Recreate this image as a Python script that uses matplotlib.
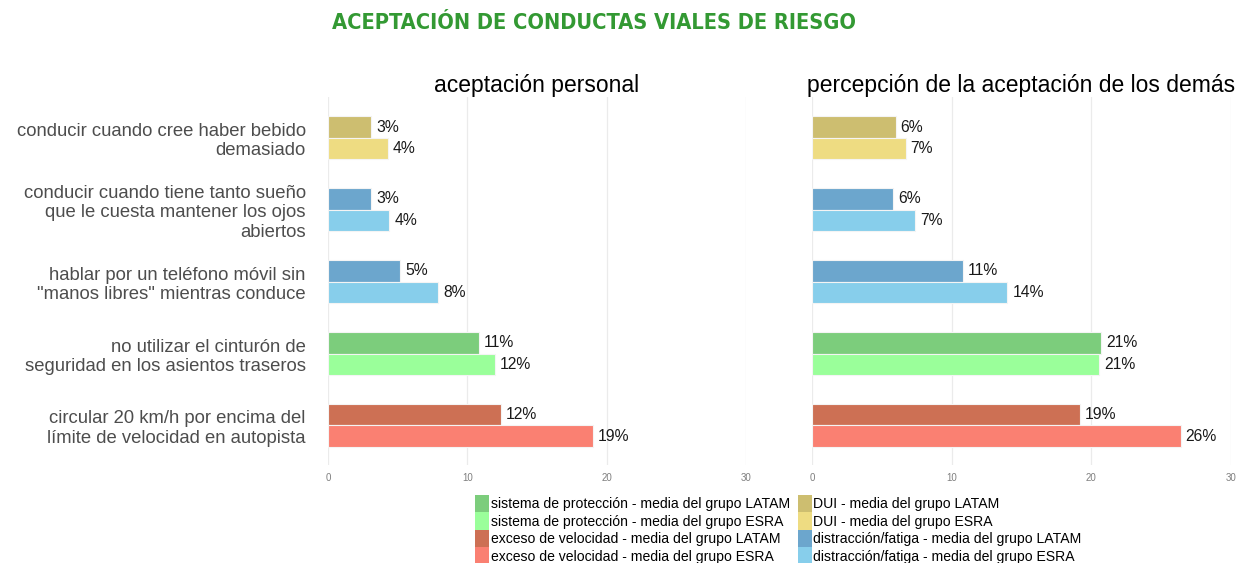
import numpy as np
import matplotlib
matplotlib.use('Agg')
import matplotlib.pyplot as plt
from matplotlib.patches import Patch

plt.rcParams['font.family'] = ['Liberation Sans', 'DejaVu Sans']

# datos
categorias = ['conducir cuando cree haber bebido\ndemasiado',
              'conducir cuando tiene tanto sueño\nque le cuesta mantener los ojos\nabiertos',
              'hablar por un teléfono móvil sin\n"manos libres" mientras conduce',
              'no utilizar el cinturón de\nseguridad en los asientos traseros',
              'circular 20 km/h por encima del\nlímite de velocidad en autopista']
personal_latam = [3.1, 3.1, 5.2, 10.8, 12.4]
personal_esra = [4.3, 4.4, 7.9, 12.0, 19.0]
demas_latam = [6.0, 5.8, 10.8, 20.7, 19.2]
demas_esra = [6.7, 7.4, 14.0, 20.55, 26.4]
paneles = ['aceptación personal', 'percepción de la aceptación de los demás']

col_latam = ['#CDBE70', '#6CA6CD', '#6CA6CD', '#7CCD7C', '#CD7054']
col_esra = ['#EEDC82', '#87CEEB', '#87CEEB', '#9AFF9A', '#FA8072']

leyenda = ['sistema de protección - media del grupo LATAM',
           'sistema de protección - media del grupo ESRA',
           'exceso de velocidad - media del grupo LATAM',
           'exceso de velocidad - media del grupo ESRA',
           'DUI - media del grupo LATAM',
           'DUI - media del grupo ESRA',
           'distracción/fatiga - media del grupo LATAM',
           'distracción/fatiga - media del grupo ESRA']
leyenda_col = ['#7CCD7C', '#9AFF9A', '#CD7054', '#FA8072',
               '#CDBE70', '#EEDC82', '#6CA6CD', '#87CEEB']

fig = plt.figure(figsize=(12.44, 5.63), dpi=100)
ax1 = fig.add_axes([0.2637, 0.174, 0.336, 0.654])
ax2 = fig.add_axes([0.6527, 0.174, 0.3368, 0.654])

y = np.arange(len(categorias))
h = 0.3
datos = [(personal_latam, personal_esra), (demas_latam, demas_esra)]

for ax, (lat, esr), titulo in zip([ax1, ax2], datos, paneles):
    ax.barh(y - h / 2, lat, height=h, color=col_latam, edgecolor='#f4f4f4', linewidth=0.8, zorder=2)
    ax.barh(y + h / 2, esr, height=h, color=col_esra, edgecolor='#f4f4f4', linewidth=0.8, zorder=2)
    for yi, v in zip(y, lat):
        ax.text(v + 0.35, yi - h / 2, '{:.0f}%'.format(v), va='center', ha='left',
                fontsize=11.3, color='#1a1a1a')
    for yi, v in zip(y, esr):
        ax.text(v + 0.35, yi + h / 2, '{:.0f}%'.format(v), va='center', ha='left',
                fontsize=11.3, color='#1a1a1a')
    ax.set_xlim(0, 30)
    ax.set_ylim(4.55, -0.57)
    ax.set_xticks([0, 10, 20, 30])
    ax.grid(axis='x', color='#EBEBEB', linewidth=0.9, zorder=0)
    ax.set_axisbelow(True)
    for s in ax.spines.values():
        s.set_visible(False)
    ax.tick_params(axis='x', length=0, labelsize=7, labelcolor='#7F7F7F', pad=6)
    ax.tick_params(axis='y', length=0)
    ax.set_title(titulo, fontsize=16.5, color='black', pad=3)

ax1.set_yticks(y)
ax1.set_yticklabels(categorias, fontsize=13.3, color='#4D4D4D', linespacing=1.18)
ax1.tick_params(axis='y', pad=16)
ax2.set_yticks([])

fig.text(0.4775, 0.96, 'ACEPTACIÓN DE CONDUCTAS VIALES DE RIESGO', ha='center', va='center',
         fontsize=15.7, fontweight='bold', color='#339933',
         family=['DejaVu Sans'], fontstretch='condensed')

handles = [Patch(facecolor=c, edgecolor='none') for c in leyenda_col]
leg = fig.legend(handles, leyenda, loc='upper left', ncol=2, frameon=False, fontsize=10.1,
                 handlelength=1.0, handleheight=1.55, labelspacing=0.0, handletextpad=0.1,
                 columnspacing=0.55, borderpad=0)
leg.set_bbox_to_anchor((0.3765, 0.134), transform=fig.transFigure)

fig.savefig('out.png', dpi=100)
